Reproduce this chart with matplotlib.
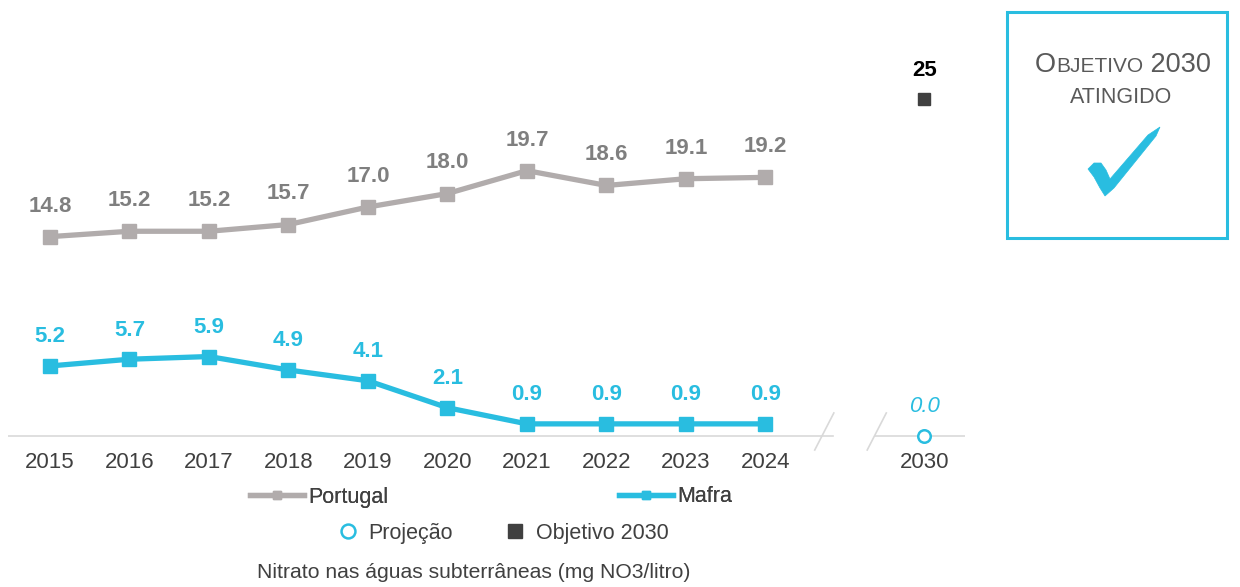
import matplotlib.pyplot as plt
from matplotlib.patches import Rectangle, Polygon
from matplotlib.lines import Line2D

plt.rcParams['font.family'] = ['Liberation Sans', 'DejaVu Sans']

years = ['2015', '2016', '2017', '2018', '2019', '2020', '2021', '2022', '2023', '2024']
portugal = [14.8, 15.2, 15.2, 15.7, 17.0, 18.0, 19.7, 18.6, 19.1, 19.2]
mafra = [5.2, 5.7, 5.9, 4.9, 4.1, 2.1, 0.9, 0.9, 0.9, 0.9]
target_year = '2030'
projecao = 0.0
objetivo = 25

GREY = '#b1acac'
CYAN = '#29bde0'
DARK = '#404040'
W, H = 1240, 587


def px(x, y):
    return (x / W, 1 - y / H)


fig = plt.figure(figsize=(12.4, 5.87), dpi=100)
ax = fig.add_axes([8 / W, 1 - 445 / H, (965 - 8) / W, 435 / H])
ax.set_xlim(-0.528, 11.51)
ax.set_ylim(-9 / 13.47, 426 / 13.47)
for s in ax.spines.values():
    s.set_visible(False)
ax.set_yticks([])

x = list(range(len(years)))
x_target = len(years) + 1

# baseline with break
ax.plot([-0.528, 9.85], [0, 0], color='#d9d9d9', lw=1.2, zorder=1)
ax.plot([10.38, 11.51], [0, 0], color='#d9d9d9', lw=1.2, zorder=1)
for x0 in (9.62, 10.28):
    ax.plot([x0, x0 + 0.24], [-1.04, 1.71], color='#d9d9d9', lw=1.2, clip_on=False)

ax.plot(x, portugal, color=GREY, lw=3.8, marker='s', markersize=9.5, zorder=3)
ax.plot(x, mafra, color=CYAN, lw=3.8, marker='s', markersize=9.5, zorder=3)
ax.plot([x_target], [projecao], marker='o', markersize=9, markerfacecolor='white',
        markeredgecolor=CYAN, markeredgewidth=1.8, clip_on=False, zorder=4)
ax.plot([x_target], [objetivo], marker='s', markersize=9, color=DARK, zorder=4)

for xi, v in zip(x, portugal):
    ax.annotate(f'{v:.1f}', (xi, v), xytext=(0, 22), textcoords='offset points',
                ha='center', va='center', fontsize=16, fontweight='bold', color='#7f7f7f')
for xi, v in zip(x, mafra):
    ax.annotate(f'{v:.1f}', (xi, v), xytext=(0, 21), textcoords='offset points',
                ha='center', va='center', fontsize=16, fontweight='bold', color=CYAN)
ax.annotate(f'{projecao:.1f}', (x_target, projecao), xytext=(0, 21), textcoords='offset points',
            ha='center', va='center', fontsize=16, fontstyle='italic', color=CYAN)
ax.annotate(f'{objetivo}', (x_target, objetivo), xytext=(0, 21), textcoords='offset points',
            ha='center', va='center', fontsize=16, fontweight='bold', color='black')

ax.set_xticks(x + [x_target])
ax.set_xticklabels(years + [target_year], fontsize=16, color=DARK)
ax.tick_params(axis='x', length=0, pad=5)

# legends
h1 = [Line2D([], [], color=GREY, lw=3.8, marker='s', markersize=6),
      Line2D([], [], color=CYAN, lw=3.8, marker='s', markersize=6)]
leg1 = fig.legend(h1, ['Portugal', 'Mafra'], loc='center', bbox_to_anchor=px(491, 497),
                  ncol=2, frameon=False, fontsize=15.5, handlelength=2.5, handletextpad=0.2,
                  columnspacing=10.7, labelcolor=DARK)
h2 = [Line2D([], [], ls='', marker='o', markersize=10, markerfacecolor='white',
             markeredgecolor=CYAN, markeredgewidth=1.8),
      Line2D([], [], ls='', marker='s', markersize=10, color=DARK)]
fig.legend(h2, ['Projeção', 'Objetivo 2030'], loc='center', bbox_to_anchor=px(503, 533),
           ncol=2, frameon=False, fontsize=15.5, handlelength=1.0, handletextpad=0.45,
           columnspacing=2.4, labelcolor=DARK)
fig.add_artist(leg1)

fig.text(*px(474, 573), 'Nitrato nas águas subterrâneas (mg NO3/litro)', ha='center',
         va='center', fontsize=15.2, color=DARK)

# target box
fig.add_artist(Rectangle(px(1007, 238), 220 / W, 226 / H, transform=fig.transFigure,
                         fill=False, edgecolor=CYAN, lw=2.2))
TXT = '#595959'
t1 = fig.text(*px(1035, 72), 'O', fontsize=19.5, color=TXT, va='baseline', ha='left')
t2 = fig.text(0, 0, 'BJETIVO', fontsize=15, color=TXT)
t3 = fig.text(0, 0, ' 2030', fontsize=19.5, color=TXT)
fig.canvas.draw()
r = fig.canvas.get_renderer()
bb1 = t1.get_window_extent(r)
x_cur = bb1.x1
base_y = 1 - 72 / H
t2.set_position((x_cur / W, base_y))
t2.set_va('baseline')
fig.canvas.draw()
x_cur = t2.get_window_extent(r).x1
t3.set_position((x_cur / W, base_y))
t3.set_va('baseline')
fig.text(*px(1121, 103), 'ATINGIDO', fontsize=15.5, color=TXT, va='baseline', ha='center')

check = [(1088, 169), (1094, 163), (1101, 163), (1106, 170), (1110, 179), (1148, 135),
         (1160, 127), (1156, 136), (1114, 188), (1105, 196), (1100, 188), (1094, 177)]
fig.add_artist(Polygon([px(a, b) for a, b in check], closed=True, transform=fig.transFigure,
                       facecolor=CYAN, edgecolor=CYAN, lw=0.5))

fig.savefig('out.png', dpi=100)
